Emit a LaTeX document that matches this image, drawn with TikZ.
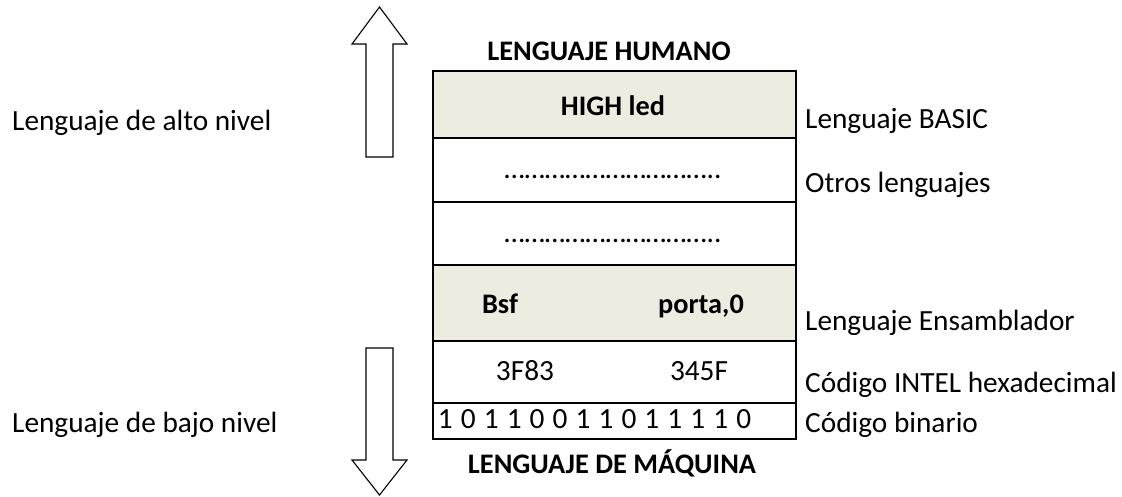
\documentclass[tikz,border=0pt]{standalone}
\usepackage{fontspec}
\setmainfont{Carlito}
\definecolor{rowfill}{HTML}{EEECE1}
\newcommand{\bsp}{\hspace{8.1pt}}
\begin{document}
\begin{tikzpicture}[x=1pt,y=-1pt,
  every node/.style={font=\fontsize{29.3}{35}\selectfont, inner sep=0pt},
  row/.style={draw=black, line width=2.4pt, minimum width=363pt, anchor=north west, inner sep=0pt},
  shaded/.style={row, fill=rowfill},
  lbl/.style={anchor=base west},
  ctr/.style={anchor=base},
  bold/.style={font=\fontsize{28.3}{34}\selectfont\bfseries},
  bigarrow/.style={draw=black, line width=1.1pt, fill=white, line join=miter}]
\useasboundingbox (0,0) rectangle (1122,496);
% table rows
\node[shaded, minimum height=67pt] (r1) at (432,70) {};
\node[row, minimum height=64pt] (r2) at (432,137) {};
\node[row, minimum height=63pt] (r3) at (432,201) {};
\node[shaded, minimum height=76pt] (r4) at (432,264) {};
\node[row, minimum height=62pt] (r5) at (432,340) {};
\node[row, minimum height=36pt] (r6) at (432,402) {};
% texts in table
\node[ctr, bold] (top) at (609,60) {LENGUAJE HUMANO};
\node[ctr, bold] (t1) at (613,115) {HIGH led};
\node[ctr] (t2) at (613,178) {…………………………..};
\node[ctr] (t3) at (613,242) {…………………………..};
\node[ctr, bold] (t4a) at (500,313) {Bsf};
\node[ctr, bold] (t4b) at (701,313) {porta,0};
\node[ctr] (t5a) at (525,380) {3F83};
\node[ctr] (t5b) at (699,380) {345F};
\node[ctr] (t6) at (594.5,428) {1\bsp0\bsp1\bsp1\bsp0\bsp0\bsp1\bsp1\bsp0\bsp1\bsp1\bsp1\bsp1\bsp0};
\node[ctr, bold] (bot) at (612,473) {LENGUAJE DE MÁQUINA};
% right labels
\node[lbl] (l1) at (805,128) {Lenguaje BASIC};
\node[lbl] (l2) at (805,192) {Otros lenguajes};
\node[lbl] (l3) at (805,330) {Lenguaje Ensamblador};
\node[lbl] (l4) at (805,392) {Código INTEL hexadecimal};
\node[lbl] (l5) at (805,432) {Código binario};
% left labels
\node[lbl] (alto) at (12,130) {Lenguaje de alto nivel};
\node[lbl] (bajo) at (12,432) {Lenguaje de bajo nivel};
% arrows
\draw[bigarrow] (379.5,7) -- (407,44) -- (393,44) -- (393,157) -- (366,157) -- (366,44) -- (352,44) -- cycle;
\draw[bigarrow] (379.5,495) -- (407,460) -- (393,460) -- (393,348) -- (366,348) -- (366,460) -- (352,460) -- cycle;
\end{tikzpicture}
\end{document}
